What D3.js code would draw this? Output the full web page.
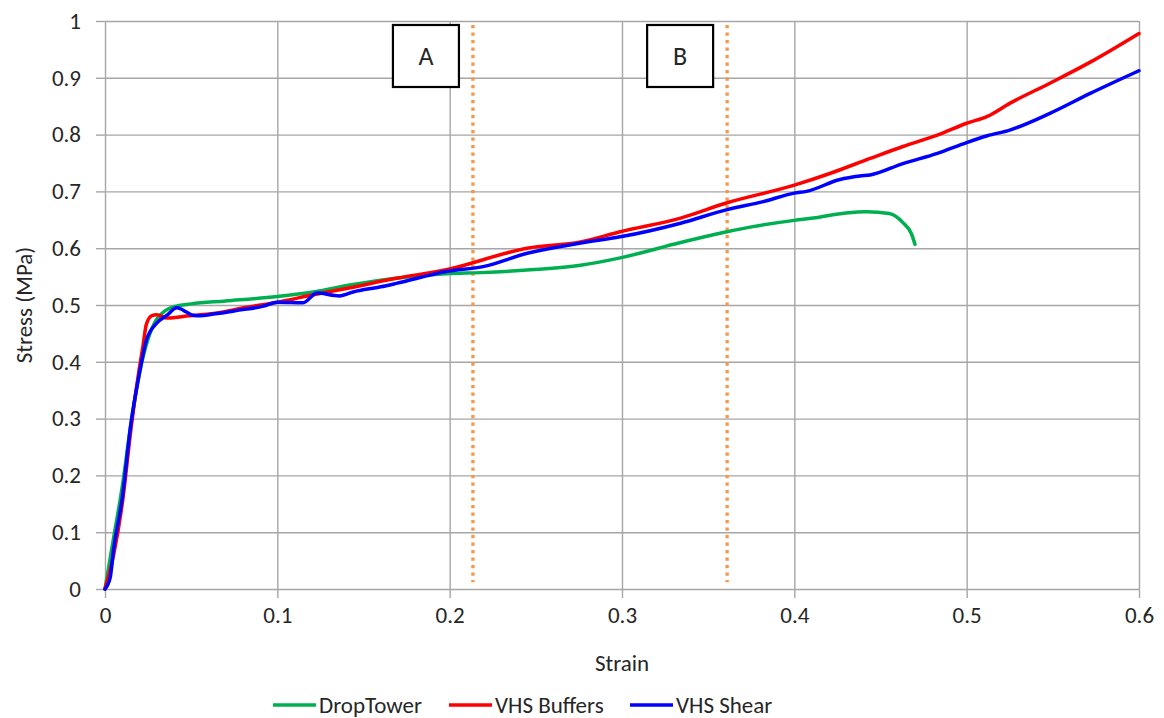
<!DOCTYPE html>
<html>
<head>
<meta charset="utf-8">
<script src="https://cdn.jsdelivr.net/npm/d3@7"></script>
<style>
	body { margin: 0; background: #fff; }
	text { font-family: Carlito, Calibri, Lato, sans-serif; fill: #262626; }
</style>
</head>
<body>
<div id="chart"></div>
<script>
// strain / stress readings, one pair of arrays per test
var dropTowerStrain = [0, .005, .01, .015, .02, .025, .03, .035, .04, .05, .07, .1, .121, .144, .169, .198, .218, .247, .276, .299, .334, .361, .376, .4, .411, .43, .442, .455, .463, .468, .47];
var dropTowerStress = [0, .09, .18, .29, .38, .44, .475, .49, .497, .502, .507, .515, .523, .536, .547, .555, .557, .562, .57, .583, .61, .629, .638, .649, .653, .662, .664, .661, .645, .625, .607];

var buffersStrain = [0, .005, .01, .015, .02, .022, .024, .027, .03, .036, .049, .063, .082, .1, .121, .14, .169, .198, .245, .276, .299, .334, .361, .4, .421, .444, .463, .483, .5, .512, .525, .548, .572, .6];
var buffersStress = [0, .06, .15, .28, .39, .427, .466, .481, .483, .477, .481, .485, .496, .505, .518, .529, .547, .562, .6, .611, .629, .653, .68, .711, .732, .758, .779, .799, .82, .832, .855, .89, .928, .978];

var shearStrain = [0, .003, .005, .01, .015, .02, .024, .03, .036, .0416, .044, .047, .051, .055, .063, .078, .092, .1, .115, .123, .136, .144, .16, .169, .198, .22, .245, .276, .299, .334, .361, .382, .4, .407, .4265, .438, .444, .463, .483, .5, .512, .525, .548, .572, .6];
var shearStress = [0, .02, .07, .16, .29, .38, .438, .468, .482, .495, .493, .488, .482, .481, .484, .491, .498, .505, .504, .521, .516, .523, .532, .538, .559, .568, .591, .609, .62, .644, .668, .682, .697, .7, .721, .727, .729, .749, .767, .786, .798, .808, .837, .873, .9125];

var seriesNames = ["DropTower", "VHS Buffers", "VHS Shear"];
var seriesColors = ["#00b050", "#ff0000", "#0000ff"];

var xTicks = [0, .1, .2, .3, .4, .5, .6];
var yTicks = [0, .1, .2, .3, .4, .5, .6, .7, .8, .9, 1];

// region markers
var markerLabels = ["A", "B"];
var markerStrain = [.2135, .361];

var Chart = function(view, width, height){
	const s = this;
	const
		LEFT = 105, RIGHT = 1139, TOP = 21, BOTTOM = 589,
		TICK = 9, LINE_W = 3.5;

	var svg, x, y;

	s.init = function(){
		svg = d3.select(view).append("svg")
			.attr("width", width)
			.attr("height", height);
		x = d3.scaleLinear().domain([0, .6]).range([LEFT, RIGHT]);
		y = d3.scaleLinear().domain([0, 1]).range([BOTTOM, TOP]);
		s.grid();
		s.markers();
		s.lines();
		s.boxes();
		s.titles();
		s.legend();
	}

	s.grid = function(){
		var gx = svg.append("g")
			.attr("transform", "translate(0," + BOTTOM + ")")
			.call(d3.axisBottom(x).tickValues(xTicks).tickSize(-(BOTTOM - TOP)).tickPadding(26)
				.tickFormat(d => d3.format("")(+d.toFixed(1))));
		var gy = svg.append("g")
			.attr("transform", "translate(" + LEFT + ",0)")
			.call(d3.axisLeft(y).tickValues(yTicks).tickSize(-(RIGHT - LEFT)).tickPadding(24)
				.tickFormat(d => d3.format("")(+d.toFixed(1))));
		[gx, gy].forEach(g => {
			g.select(".domain").remove();
			g.selectAll(".tick line").attr("stroke", "#a6a6a6").attr("stroke-width", 1.4);
			g.selectAll(".tick text").style("font-size", "23px").attr("fill", "#262626");
		});
		// short outward tick marks
		gx.selectAll(".tick").append("line")
			.attr("y1", 0).attr("y2", TICK)
			.attr("stroke", "#a6a6a6").attr("stroke-width", 1.4);
		gy.selectAll(".tick").append("line")
			.attr("x1", 0).attr("x2", -TICK)
			.attr("stroke", "#a6a6a6").attr("stroke-width", 1.4);
		gx.selectAll(".tick text").attr("dy", "0.35em");
	}

	s.markers = function(){
		svg.selectAll(".marker")
			.data(markerStrain)
			.enter().append("line")
			.attr("class", "marker")
			.attr("x1", d => x(d)).attr("x2", d => x(d))
			.attr("y1", y(.993)).attr("y2", y(.012))
			.attr("stroke", "#f79646")
			.attr("stroke-width", 3.3)
			.attr("stroke-dasharray", "3.3,4.2");
	}

	s.lines = function(){
		var data = [
			d3.zip(dropTowerStrain, dropTowerStress),
			d3.zip(buffersStrain, buffersStress),
			d3.zip(shearStrain, shearStress)
		];
		var line = d3.line().x(d => x(d[0])).y(d => y(d[1])).curve(d3.curveMonotoneX);
		svg.selectAll(".series")
			.data(data)
			.enter().append("path")
			.attr("class", "series")
			.attr("d", line)
			.attr("fill", "none")
			.attr("stroke", (d, i) => seriesColors[i])
			.attr("stroke-width", LINE_W)
			.attr("stroke-linejoin", "round")
			.attr("stroke-linecap", "round");
	}

	s.boxes = function(){
		var g = svg.selectAll(".box")
			.data(markerStrain)
			.enter().append("g")
			.attr("class", "box")
			.attr("transform", d => "translate(" + (x(d) - 80) + "," + (TOP + 4) + ")");
		g.append("rect")
			.attr("width", 66).attr("height", 62)
			.attr("fill", "#fff").attr("stroke", "#000").attr("stroke-width", 2.2);
		g.append("text")
			.attr("x", 33).attr("y", 31).attr("dy", "0.35em")
			.attr("text-anchor", "middle")
			.style("font-size", "26px")
			.attr("fill", "#000")
			.text((d, i) => markerLabels[i]);
	}

	s.titles = function(){
		svg.append("text")
			.attr("x", 622).attr("y", 663).attr("dy", "0.35em")
			.attr("text-anchor", "middle")
			.style("font-size", "23px")
			.text("Strain");
		svg.append("text")
			.attr("transform", "translate(24," + ((TOP + BOTTOM) / 2) + ") rotate(-90)")
			.attr("dy", "0.35em")
			.attr("text-anchor", "middle")
			.style("font-size", "23px")
			.text("Stress (MPa)");
	}

	s.legend = function(){
		var legendX = [273, 449, 630];
		var g = svg.selectAll(".legend")
			.data(seriesNames)
			.enter().append("g")
			.attr("class", "legend")
			.attr("transform", (d, i) => "translate(" + legendX[i] + ",705)");
		g.append("line")
			.attr("x1", 0).attr("x2", 43)
			.attr("stroke", (d, i) => seriesColors[i])
			.attr("stroke-width", LINE_W);
		g.append("text")
			.attr("x", 46).attr("dy", "0.35em")
			.style("font-size", "23px")
			.text(d => d);
	}
}

new Chart("#chart", 1164, 718).init();
</script>
</body>
</html>
